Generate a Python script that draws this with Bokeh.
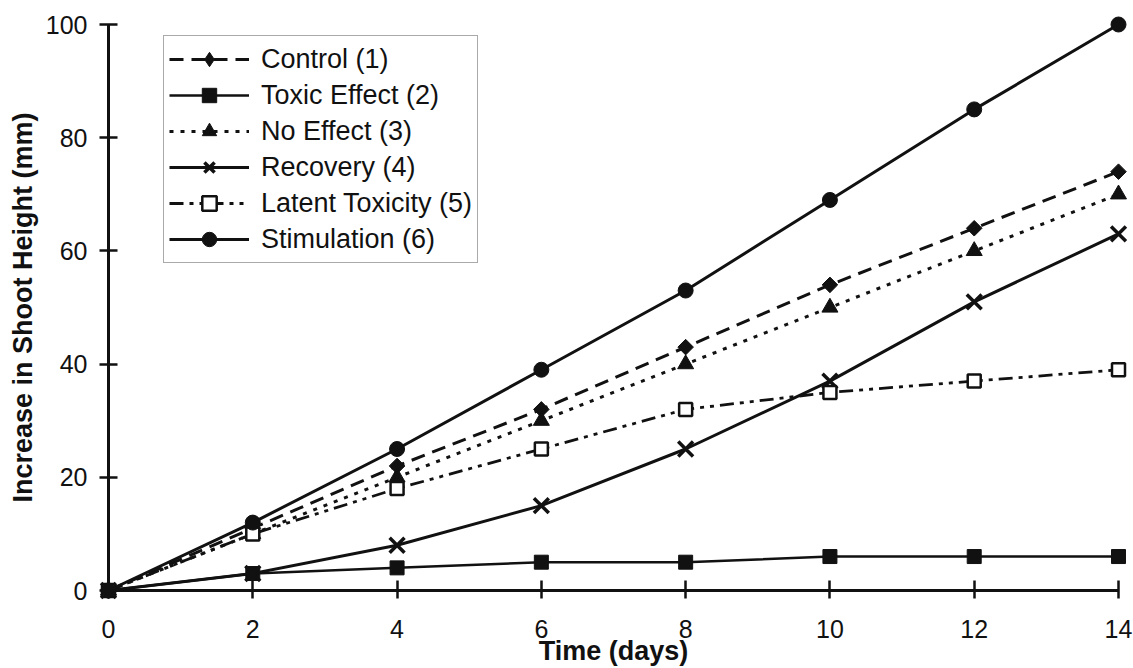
import math
from bokeh.plotting import figure
from bokeh.models import Range1d, Legend, LegendItem, FixedTicker
from bokeh.embed import file_html
from bokeh.resources import INLINE

days = [0, 2, 4, 6, 8, 10, 12, 14]
control = [0, 11, 22, 32, 43, 54, 64, 74]
toxic = [0, 3, 4, 5, 5, 6, 6, 6]
no_effect = [0, 10, 20, 30, 40, 50, 60, 70]
recovery = [0, 3, 8, 15, 25, 37, 51, 63]
latent = [0, 10, 18, 25, 32, 35, 37, 39]
stimulation = [0, 12, 25, 39, 53, 69, 85, 100]

labels = ["Control (1)", "Toxic Effect (2)", "No Effect (3)", "Recovery (4)",
          "Latent Toxicity (5)", "Stimulation (6)"]
x_ticks = [0, 2, 4, 6, 8, 10, 12, 14]
y_ticks = [0, 20, 40, 60, 80, 100]

INK = "#111111"
FONT = "Liberation Sans"

p = figure(width=1133, height=668, output_backend="svg", toolbar_location=None,
           x_range=Range1d(0, 14), y_range=Range1d(0, 100),
           min_border_left=108, min_border_right=15, min_border_top=24, min_border_bottom=78)
p.outline_line_color = None
p.xgrid.visible = False
p.ygrid.visible = False
p.background_fill_color = "white"
p.border_fill_color = "white"

for ax in (p.xaxis[0], p.yaxis[0]):
    ax.axis_line_color = INK
    ax.axis_line_width = 3
    ax.major_tick_line_color = INK
    ax.major_tick_line_width = 2.5
    ax.minor_tick_line_color = None
    ax.major_label_text_font = FONT
    ax.major_label_text_font_size = "25px"
    ax.major_label_text_color = INK
    ax.axis_label_text_font = FONT
    ax.axis_label_text_font_size = "27px"
    ax.axis_label_text_font_style = "bold"
    ax.axis_label_text_color = INK

p.xaxis.ticker = FixedTicker(ticks=x_ticks)
p.yaxis.ticker = FixedTicker(ticks=y_ticks)
p.xaxis.major_tick_in = 10
p.xaxis.major_tick_out = 8
p.yaxis.major_tick_in = 9
p.yaxis.major_tick_out = 9
p.xaxis.major_label_standoff = 21
p.yaxis.major_label_standoff = 12
p.xaxis.axis_label = "Time (days)"
p.yaxis.axis_label = "Increase in Shoot Height (mm)"
p.xaxis.axis_label_standoff = -5
p.yaxis.axis_label_standoff = 5

items = []
NAN = float("nan")

def add(series, label, dash, lw, marker, msize, fill, mlw=1.0, angle=0.0, proxy=None):
    lr = p.line(days, series, line_color=INK, line_width=lw, line_dash=dash, level="overlay")
    sr = p.scatter(days, series, marker=marker, size=msize, fill_color=fill,
                   line_color=INK, line_width=mlw, angle=angle, level="overlay")
    rs = [lr, sr]
    if proxy is not None:
        # legend-only key glyph (its single point is NaN, so nothing is drawn in the plot)
        pr = p.scatter([NAN], [NAN], marker=proxy, size=msize, fill_color=fill,
                       line_color=INK, line_width=mlw)
        rs = [lr, pr]
    items.append(LegendItem(label=label, renderers=rs))

add(control, labels[0], "14 8", 3, "square", 11, INK, 1.0, math.pi / 4, proxy="diamond")
add(toxic, labels[1], "solid", 2.5, "square", 14, INK)
add(no_effect, labels[2], "4 7", 3, "triangle", 16, INK)
add(recovery, labels[3], "solid", 3, "x", 21, None, 3.5)
add(latent, labels[4], "14 6 4 6 4 6", 2.8, "square", 13, "white", 2.5)
add(stimulation, labels[5], "solid", 3, "circle", 15, INK)

legend = Legend(items=items, location=(55, 327))
legend.glyph_width = 80
legend.glyph_height = 36
legend.label_height = 36
legend.spacing = 0
legend.padding = 5
legend.margin = 0
legend.label_standoff = 12
legend.label_text_font = FONT
legend.label_text_font_size = "27px"
legend.label_text_color = INK
legend.border_line_color = "#555555"
legend.border_line_width = 1.5
legend.background_fill_color = "white"
legend.background_fill_alpha = 1.0
p.add_layout(legend, "center")

open("out.html", "w").write(file_html(p, INLINE))
